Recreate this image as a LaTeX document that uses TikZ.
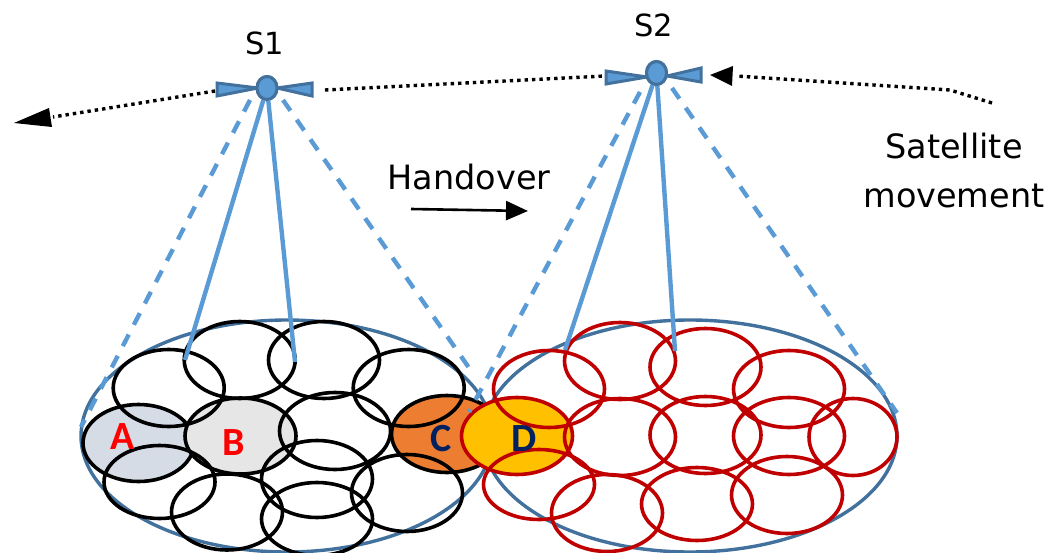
\documentclass[tikz,border=0pt]{standalone}
\usepackage{fontspec}
\setmainfont{DejaVu Sans}
\newfontfamily\letterfont{Carlito}
\usetikzlibrary{shapes.geometric,arrows.meta}
\definecolor{beam}{HTML}{5B9BD5}
\definecolor{rim}{HTML}{41719C}
\definecolor{redcell}{HTML}{C00000}
\definecolor{navy}{HTML}{002060}
\definecolor{fillA}{HTML}{D6DCE5}
\definecolor{fillB}{HTML}{E7E6E6}
\definecolor{fillC}{HTML}{ED7D31}
\definecolor{fillD}{HTML}{FFC000}
\tikzset{
  x=1pt,y=-1pt,
  coverage/.style={ellipse,draw=rim,line width=3.4pt,minimum width=412pt,minimum height=232pt,inner sep=0pt},
  cell/.style args={#1/#2}{ellipse,line width=3.6pt,minimum width=#1pt,minimum height=#2pt,inner sep=0pt,outer sep=0pt},
  bcell/.style={cell=111/77,draw=black},
  rcell/.style={cell=111/77,draw=redcell},
  solidbeam/.style={draw=beam,line width=4.4pt},
  dashbeam/.style={draw=beam,line width=4.4pt,dash pattern=on 13pt off 11pt},
  dots/.style={draw=black,line width=3.4pt,dash pattern=on 3.4pt off 4pt},
  lbl/.style={font=\fontsize{33.5}{36}\selectfont,inner sep=0pt},
  satlbl/.style={font=\fontsize{30.5}{34}\selectfont,inner sep=0pt},
  letterA/.style={font=\letterfont\fontsize{40}{42}\selectfont\bfseries,text=red,inner sep=0pt},
  letterC/.style={font=\letterfont\fontsize{40}{42}\selectfont\bfseries,text=navy,inner sep=0pt},
  wing/.style={draw=rim,fill=beam,line width=3pt,line join=miter},
  sat/.style={ellipse,draw=rim,fill=beam,line width=3pt,minimum width=20pt,minimum height=23pt,inner sep=0pt}
}
\begin{document}
\begin{tikzpicture}
\useasboundingbox (0,0) rectangle (1048,553);
% coverage areas
\node[coverage] (areaL) at (287,436) {};
\node[coverage,minimum width=414pt] (areaR) at (690,436) {};
% filled cells
\node[bcell,fill=fillA] (A) at (138.5,443) {};
\node[bcell,fill=fillB,minimum height=76pt] (B) at (240.5,436) {};
\node[bcell,fill=fillC] (C) at (447,434) {};
% black cells
\node[bcell] (b1) at (168.7,388) {};
\node[bcell] (b2) at (239.7,360) {};
\node[bcell] (b3) at (324,360) {};
\node[bcell] (b4) at (408.7,388) {};
\node[bcell] (b5) at (335,431) {};
\node[bcell,minimum height=73pt] (b6) at (159.5,482) {};
\node[bcell,minimum height=76pt] (b7) at (227,512) {};
\node[bcell] (b8) at (317,479) {};
\node[bcell,minimum height=73pt] (b9) at (317,519) {};
\node[bcell] (b10) at (407,493) {};
% red cells
\node[rcell,fill=fillD] (D) at (517,436) {};
\node[rcell] (r1) at (549,389) {};
\node[rcell] (r2) at (620,361) {};
\node[rcell] (r3) at (705.5,367) {};
\node[rcell] (r4) at (789,389) {};
\node[rcell] (r5) at (620,437) {};
\node[rcell] (r6) at (705.5,435) {};
\node[rcell] (r7) at (789,436) {};
\node[rcell,minimum width=88pt] (r8) at (853,437) {};
\node[rcell,minimum height=70pt] (r9) at (539,484.5) {};
\node[rcell] (r10) at (607,513) {};
\node[rcell,minimum height=73pt] (r11) at (697,504) {};
\node[rcell] (r12) at (787,495) {};
% letters
\node[letterA] (la) at (123,437) {A};
\node[letterA] (lb) at (234,443) {B};
\node[letterC] (lc) at (441,439) {C};
\node[letterC] (ld) at (524,439) {D};
% satellites
\node[sat] (s1) at (267,88) {};
\node[sat] (s2) at (656.5,73) {};
\coordinate (s1a) at (185,360);
\coordinate (s1b) at (295,362);
\coordinate (s1c) at (250,100);
\coordinate (s1d) at (81,427);
\coordinate (s1e) at (283,100);
\coordinate (s1f) at (474,375);
\coordinate (s2a) at (565,350);
\coordinate (s2b) at (675,351);
\coordinate (s2c) at (640,92);
\coordinate (s2d) at (469,412);
\coordinate (s2e) at (672,88);
\coordinate (s2f) at (897,413);
\draw[solidbeam] (s1) -- (s1a);
\draw[solidbeam] (s1) -- (s1b);
\draw[dashbeam] (s1c) -- (s1d);
\draw[dashbeam] (s1e) -- (s1f);
\draw[solidbeam] (s2) -- (s2a);
\draw[solidbeam] (s2) -- (s2b);
\draw[dashbeam] (s2c) -- (s2d);
\draw[dashbeam] (s2e) -- (s2f);
% wings
\draw[wing] (258,88) -- (217,83) -- (217,96) -- cycle;
\draw[wing] (277,88) -- (312,83) -- (312,96) -- cycle;
\draw[wing] (647,77) -- (606,71) -- (606,84) -- cycle;
\draw[wing] (667,76) -- (701,68) -- (701,82) -- cycle;
\node[sat] at (s1) {};
\node[sat] at (s2) {};
% movement
\coordinate (m1) at (215,91);
\coordinate (m3) at (325,90);
\coordinate (m4) at (605,76);
\coordinate (m5) at (992,103);
\coordinate (m6) at (950,90);
\coordinate (m7) at (736,76);
\draw[dots] (m1) -- (53,117);
\fill (49,108) -- (14,123) -- (52,127) -- cycle;
\draw[dots] (m3) -- (m4);
\draw[dots] (m5) -- (m6) -- (m7);
\fill (733,66) -- (710,75) -- (732,86) -- cycle;
% labels
\node[satlbl] (ls1) at (265,43) {S1};
\node[satlbl] (ls2) at (654,25) {S2};
\node[lbl] (lh) at (469,177) {Handover};
\node[lbl] (lsat) at (954,146) {Satellite};
\node[lbl] (lmov) at (954,196) {movement};
\coordinate (h1) at (411,209);
\coordinate (h2) at (528,211);
\draw[line width=2.6pt,-{Triangle[length=22pt,width=19pt]}] (h1) -- (h2);
\end{tikzpicture}
\end{document}
